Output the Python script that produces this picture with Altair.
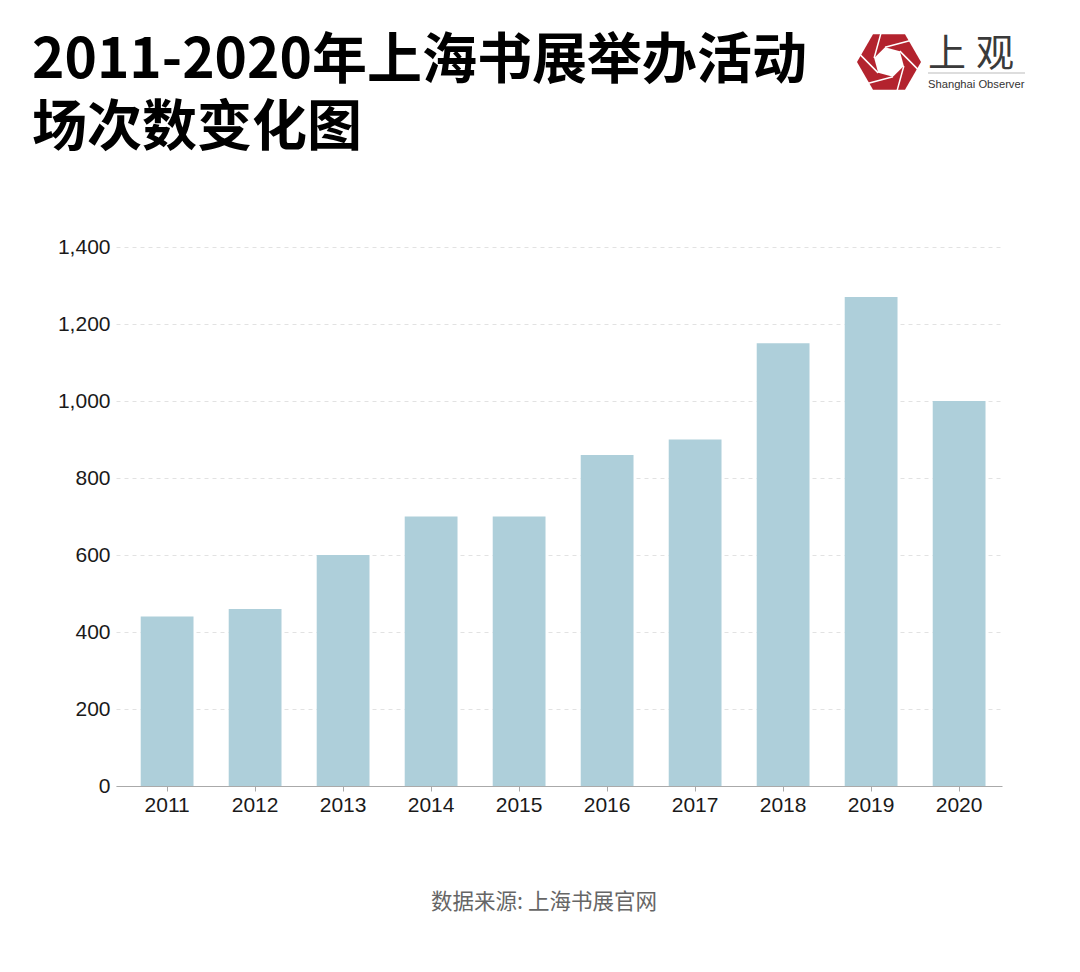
import altair as alt
import pandas as pd
import numpy as np

years = ["2011", "2012", "2013", "2014", "2015", "2016", "2017", "2018", "2019", "2020"]
events = [440, 460, 600, 700, 700, 860, 900, 1150, 1270, 1000]
title_lines = ["2011-2020年上海书展举办活动", "场次数变化图"]
source_text = "数据来源: 上海书展官网"
logo_chars = ["上", "观"]
logo_en = "Shanghai Observer"

W, H = 886, 539
df = pd.DataFrame({"year": years, "events": events})

bars = alt.Chart(df).mark_bar(color="#aecfda").encode(
    x=alt.X("year:N", sort=years, title=None,
            scale=alt.Scale(paddingInner=0.4, paddingOuter=0.234, align=0.6),
            axis=alt.Axis(labelAngle=0, labelFontSize=21, labelFont="Liberation Sans",
                          labelColor="#1a1a1a", tickSize=5, tickColor="#aaa",
                          domainColor="#aaa", labelPadding=3, grid=False)),
    y=alt.Y("events:Q", title=None,
            scale=alt.Scale(domain=[0, 1400]),
            axis=alt.Axis(values=[0, 200, 400, 600, 800, 1000, 1200, 1400], format=",d",
                          labelFontSize=21, labelFont="Liberation Sans", labelColor="#1a1a1a",
                          domain=False, ticks=False, labelPadding=6,
                          grid=True, gridColor="#e2e2e2", gridDash=[4, 4]))
)

tdf = pd.DataFrame({"t": ["\n".join(title_lines)]})
title = alt.Chart(tdf).mark_text(
    align="left", baseline="alphabetic", font="Noto Sans CJK SC", fontWeight="bold",
    fontSize=55, color="#000", lineBreak="\n", lineHeight=67
).encode(text="t:N", x=alt.value(32 - 116), y=alt.value(78 - 247))

src = alt.Chart(pd.DataFrame({"t": [source_text]})).mark_text(
    align="center", baseline="middle", font="Noto Sans CJK SC", fontSize=21.5, color="#666"
).encode(text="t:N", x=alt.value(544 - 116), y=alt.value(903 - 247))

# logo
def hexpath(r, rot):
    pts = [(r * np.cos(np.radians(rot + 60 * k)), r * np.sin(np.radians(rot + 60 * k))) for k in range(6)]
    return "M" + " L".join(f"{x:.3f},{y:.3f}" for x, y in pts) + " Z"

outer = hexpath(1.0, 0)
inner = hexpath(0.48, 15)
lines = ""
for k in range(6):
    a = np.radians(15 + 60 * k)
    b = np.radians(75 + 60 * k)
    x0, y0 = 0.48 * np.cos(a), 0.48 * np.sin(a)
    x1, y1 = 0.95 * np.cos(b), 0.95 * np.sin(b)
    lines += f"M{x0:.3f},{y0:.3f} L{x1:.3f},{y1:.3f} "

logo_pt = pd.DataFrame({"k": [0]})
lx, ly = 889 - 116, 62 - 247
LS = 4096
logo_outer = alt.Chart(logo_pt).mark_point(shape=outer, filled=True, color="#b3232e", size=LS, opacity=1).encode(
    x=alt.value(lx), y=alt.value(ly))
logo_inner = alt.Chart(logo_pt).mark_point(shape=inner, filled=True, color="#ffffff", size=LS, opacity=1).encode(
    x=alt.value(lx), y=alt.value(ly))
logo_lines = alt.Chart(logo_pt).mark_point(shape=lines, filled=False, stroke="#ffffff", strokeWidth=1.5,
                                           size=LS, opacity=1).encode(
    x=alt.value(lx), y=alt.value(ly))
ldf = pd.DataFrame({"t": logo_chars, "xx": [928 - 116, 976 - 116]})
logo_cn_t = alt.Chart(ldf).mark_text(
    align="left", baseline="alphabetic", font="Noto Sans CJK SC", fontSize=38, color="#3a3a3a"
).encode(text="t:N", x=alt.X("xx:Q", scale=None), y=alt.value(66 - 247))
logo_rule = alt.Chart(logo_pt).mark_rule(color="#bbb", strokeWidth=1).encode(
    x=alt.value(928 - 116), x2=alt.value(1025 - 116), y=alt.value(73 - 247))
logo_en_t = alt.Chart(pd.DataFrame({"t": [logo_en]})).mark_text(
    align="left", baseline="alphabetic", font="Liberation Sans", fontSize=11.2, color="#333"
).encode(text="t:N", x=alt.value(928 - 116), y=alt.value(88 - 247))

chart = alt.layer(bars, title, src, logo_outer, logo_inner, logo_lines, logo_cn_t, logo_rule, logo_en_t).properties(
    width=W, height=H,
    padding={"left": 108, "top": 239, "right": 60, "bottom": 160},
    autosize=alt.AutoSizeParams(type="none"),
    background="#ffffff",
).configure_view(stroke=None)

chart.save("out.html", embed_options={"renderer": "svg", "actions": False})
